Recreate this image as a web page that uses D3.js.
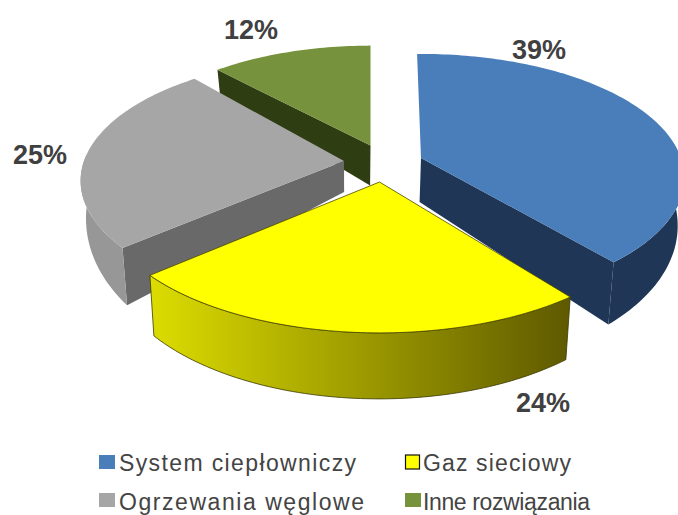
<!DOCTYPE html>
<html>
<head>
<meta charset="utf-8">
<script src="https://cdn.jsdelivr.net/npm/d3@7"></script>
<style>
  html, body { margin: 0; padding: 0; background: #fff; overflow: hidden; }
  svg { display: block; }
  text { font-family: "Liberation Sans", Arial, sans-serif; }
</style>
</head>
<body>
<svg id="chart" width="678" height="515"></svg>
<script>
// Heating sources by share of households
const categories = ["System ciepłowniczy", "Gaz sieciowy", "Ogrzewania węglowe", "Inne rozwiązania"];
const shares = [39, 24, 25, 12];
const topColors = ["#4a7ebb", "#ffff00", "#a6a6a6", "#76923c"];
const radialWallColors = ["#1f3657", "#666000", "#696969", "#2f3d12"];
const outerWallColors = ["#1f3657", "url(#yellowWall)", "#979797", "#2f3d12"];

// Exploded wedge placement: apex, size, small rotation and wall height
const wedgeLayout = [
  { cx: 421, cy: 158, scale: 1.00, rot: -1, depthApex: 44, depthSlope: 24 },
  { cx: 379.5, cy: 182, scale: 1.05, rot: 2, depthApex: 50, depthSlope: 16 },
  { cx: 344, cy: 161, scale: 1.00, rot: 3, depthApex: 31, depthSlope: 41 },
  { cx: 370.5, cy: 145.5, scale: 0.96, rot: 0, depthApex: 40, depthSlope: 19 }
];
const labelPlaces = [[539, 50], [543, 403], [40, 155], [251, 30]];
const legendPlaces = [
  { x: 99, tx: 119, y: 471, w: 237 },
  { x: 405, tx: 423, y: 471, w: 148 },
  { x: 99, tx: 119, y: 510, w: 245 },
  { x: 405, tx: 423, y: 510, w: 167 }
];

const svg = d3.select("#chart");
const perspective = 0.16;
const lowerShrink = 0.02;   // the underside sits slightly narrower about the pie's axis
const axisX = 350;
const xScale = d3.scaleLinear().domain([-1, 1]).range([-260, 260]);
const yScale = d3.scaleLinear().domain([-1, 1]).range([-120.7, 120.7]);

const grad = svg.append("defs").append("linearGradient")
  .attr("id", "yellowWall").attr("gradientUnits", "userSpaceOnUse")
  .attr("x1", 151).attr("x2", 568).attr("y1", 0).attr("y2", 0);
grad.append("stop").attr("offset", "0%").attr("stop-color", "#dcdc00");
grad.append("stop").attr("offset", "100%").attr("stop-color", "#5f5a00");

const pie = d3.pie().sort(null).value(d => d);
const wedges = pie(shares);
const line = d3.line().x(p => p[0]).y(p => p[1]);

// Project a point of the unit disc to the page, with the near side enlarged
function project(layout, angle, radius, lowered) {
  const t = angle + layout.rot * Math.PI / 180;
  const X = Math.sin(t) * radius;
  const Y = -Math.cos(t) * radius;
  const s = layout.scale / (1 - perspective * Y);
  const px = layout.cx + xScale(X) * s;
  const py = layout.cy + yScale(Y) * s;
  if (!lowered) return [px, py];
  return [axisX + (px - axisX) * (1 - lowerShrink),
          py + layout.depthApex + layout.depthSlope * Y];
}

function arcSamples(a0, a1) {
  const n = Math.max(2, Math.ceil((a1 - a0) / 0.02));
  return d3.range(n + 1).map(i => a0 + (a1 - a0) * i / n);
}

// Far wedges first so nearer ones overlap them
const drawOrder = [3, 0, 2, 1];
drawOrder.forEach(i => {
  const w = wedges[i];
  const layout = wedgeLayout[i];
  const g = svg.append("g");
  const a0 = w.startAngle, a1 = w.endAngle;

  // Side walls along the cut edges, where they turn toward the viewer
  [[a0, -Math.sin(a0)], [a1, Math.sin(a1)]].forEach(([a, facing]) => {
    if (facing > 0.01) {
      const wall = [project(layout, a, 0, false), project(layout, a, 1, false),
                    project(layout, a, 1, true), project(layout, a, 0, true)];
      g.append("path").attr("d", line(wall) + "Z").attr("fill", radialWallColors[i]);
    }
  });

  // Rim wall along the front half of the disc
  const lo = Math.max(a0, Math.PI / 2), hi = Math.min(a1, 3 * Math.PI / 2);
  if (hi > lo) {
    const angles = arcSamples(lo, hi);
    const rim = angles.map(a => project(layout, a, 1, false))
      .concat(angles.slice().reverse().map(a => project(layout, a, 1, true)));
    const rimPath = g.append("path").attr("d", line(rim) + "Z").attr("fill", outerWallColors[i]);
    if (i === 1) rimPath.attr("stroke", "#3a3800").attr("stroke-width", 0.8);
  }

  // Top face
  const face = [project(layout, a0, 0, false)]
    .concat(arcSamples(a0, a1).map(a => project(layout, a, 1, false)));
  const top = g.append("path").attr("d", line(face) + "Z").attr("fill", topColors[i]);
  if (i === 1) top.attr("stroke", "#4a4800").attr("stroke-width", 0.8);
});

// Percentage labels
svg.append("g").selectAll("text").data(shares).join("text")
  .attr("x", (d, i) => labelPlaces[i][0])
  .attr("y", (d, i) => labelPlaces[i][1])
  .attr("text-anchor", "middle").attr("dominant-baseline", "central")
  .attr("font-size", 27).attr("font-weight", "bold").attr("fill", "#404040")
  .text(d => d + "%");

// Legend
const legend = svg.append("g").selectAll("g").data(categories).join("g");
legend.append("rect")
  .attr("x", (d, i) => legendPlaces[i].x + (i === 1 ? 0.5 : 0))
  .attr("y", (d, i) => legendPlaces[i].y - 16 + (i > 1 ? -1 : 0))
  .attr("width", (d, i) => i === 1 ? 14 : 16).attr("height", 14)
  .attr("fill", (d, i) => topColors[i])
  .attr("stroke", (d, i) => i === 1 ? "#111" : "none").attr("stroke-width", 1.2);
legend.append("text")
  .attr("x", (d, i) => legendPlaces[i].tx)
  .attr("y", (d, i) => legendPlaces[i].y)
  .attr("font-size", 23).attr("fill", "#444")
  .attr("textLength", (d, i) => legendPlaces[i].w)
  .attr("lengthAdjust", "spacing")
  .text(d => d);
</script>
</body>
</html>
